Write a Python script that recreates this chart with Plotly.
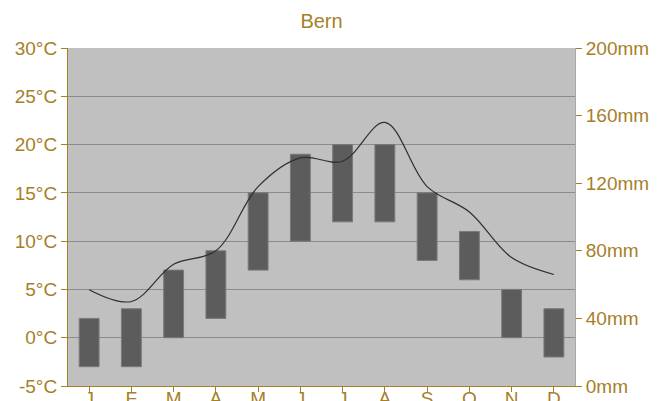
import plotly.graph_objects as go

months = ["J", "F", "M", "A", "M", "J", "J", "A", "S", "O", "N", "D"]
temp_min = [-3, -3, 0, 2, 7, 10, 12, 12, 8, 6, 0, -2]
temp_max = [2, 3, 7, 9, 15, 19, 20, 20, 15, 11, 5, 3]
precip = [57, 50, 72, 80, 118, 135, 133, 156, 118, 103, 76, 66]

temp_ticks = [-5, 0, 5, 10, 15, 20, 25, 30]
precip_ticks = [0, 40, 80, 120, 160, 200]

gold = "#a68028"
x = list(range(len(months)))

fig = go.Figure()
fig.add_trace(go.Bar(
    x=x,
    y=[hi - lo for lo, hi in zip(temp_min, temp_max)],
    base=temp_min,
    width=0.47,
    marker=dict(color="#5c5c5c", line=dict(color="#7a7a7a", width=1)),
    showlegend=False,
))
fig.add_trace(go.Scatter(
    x=x, y=precip, yaxis="y2", mode="lines",
    line=dict(color="#2f2f2f", width=1.2, shape="spline", smoothing=1.0),
    showlegend=False,
))

fig.update_layout(
    width=651, height=393,
    margin=dict(l=60, r=84, t=40, b=15, autoexpand=False),
    paper_bgcolor="white",
    plot_bgcolor="#c0c0c0",
    font=dict(family="Liberation Sans, Arial, sans-serif", size=19, color=gold),
    title=dict(text="Bern", x=0.5, xanchor="center", xref="paper",
               y=1 - 13 / 393, yanchor="middle", yref="container",
               font=dict(size=20, color=gold)),
    xaxis=dict(
        tickmode="array", tickvals=x, ticktext=months,
        range=[-0.5, 11.5], showgrid=False, zeroline=False,
        showline=True, linecolor=gold, linewidth=1, automargin=False,
        ticks="outside", ticklen=5, tickcolor=gold,
        ticklabelstandoff=-10,
        tickfont=dict(size=19, color=gold),
    ),
    yaxis=dict(
        range=[-5, 30], tickvals=temp_ticks,
        ticktext=[f"{v}°C" for v in temp_ticks],
        showgrid=True, gridcolor="#8c8c8c", gridwidth=1, automargin=False,
        zeroline=False, showline=True, linecolor=gold, linewidth=1,
        ticks="outside", ticklen=6, tickcolor=gold,
        tickfont=dict(size=19, color=gold),
    ),
    yaxis2=dict(
        range=[0, 200], tickvals=precip_ticks,
        ticktext=[f"{v}mm" for v in precip_ticks],
        overlaying="y", side="right", showgrid=False, zeroline=False,
        showline=True, linecolor="#a8a8a8", linewidth=1, automargin=False,
        ticks="outside", ticklen=6, tickcolor=gold,
        tickfont=dict(size=19, color=gold),
    ),
)

fig.write_html("out.html")
